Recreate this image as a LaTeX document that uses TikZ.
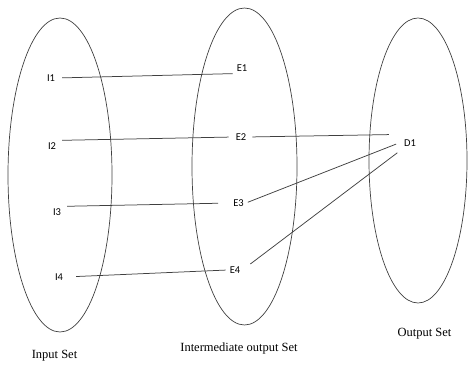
\documentclass[tikz,border=0pt]{standalone}
\usepackage{fontspec}
\usepackage{tikz}
\usetikzlibrary{shapes.geometric}
\newfontfamily\elemfont{Carlito}
\newfontfamily\capfont{Liberation Serif}

\begin{document}
\begin{tikzpicture}[x=1pt, y=1pt,
          setbox/.style={draw=black!75, line width=0.7pt, ellipse, inner sep=0pt},
          elem/.style={inner sep=2pt, font=\elemfont\fontsize{10.5}{12}\selectfont, text=black},
          setname/.style={inner sep=0pt, font=\capfont\fontsize{12.5}{14}\selectfont, text=black},
          link/.style={draw=black!75, line width=0.75pt}
      ]
        \useasboundingbox (0,0) rectangle (468,364);
        % the three sets
        \node[setbox, minimum width=104pt, minimum height=314pt] (inset) at (60,189) {};
        \node[setbox, minimum width=105pt, minimum height=317pt] (midset) at (244.5,197.5) {};
        \node[setbox, minimum width=98pt, minimum height=285pt] (outset) at (418,203.5) {};
        \node[setname] (incap) at (54.5,8) {Input Set};
        \node[setname] (midcap) at (239,16) {Intermediate output Set};
        \node[setname] (outcap) at (424.5,30) {Output Set};
        % elements
        \node[elem] (i1) at (51,286) {I1};
        \node[elem] (i2) at (52,218) {I2};
        \node[elem] (i3) at (57,152) {I3};
        \node[elem] (i4) at (59,87) {I4};
        \node[elem] (e1) at (242,296) {E1};
        \node[elem] (e2) at (241,227) {E2};
        \node[elem] (e3) at (238.5,161) {E3};
        \node[elem] (e4) at (235,94) {E4};
        \node[elem, inner sep=5pt] (d1) at (410,221) {D1};
        % mappings
        \draw[link, shorten <=5pt, shorten >=2pt] (i1.east) -- (e1.south west);
        \draw[link, shorten <=4pt, shorten >=5pt] (i2.north east) -- (e2.west);
        \draw[link, shorten <=4pt, shorten >=13pt] (i3.north east) -- (e3.west);
        \draw[link, shorten <=11pt, shorten >=2pt] (i4.east) -- (e4.west);
        \draw[link, shorten <=4pt, shorten >=10pt] (e2.east) -- (d1.north west);
        \draw[link, shorten <=2pt, shorten >=3pt] (e3.east) -- (d1.west);
        \draw[link, shorten <=10pt, shorten >=2pt] (e4.east) -- (d1.south west);
      \end{tikzpicture}
\end{document}
